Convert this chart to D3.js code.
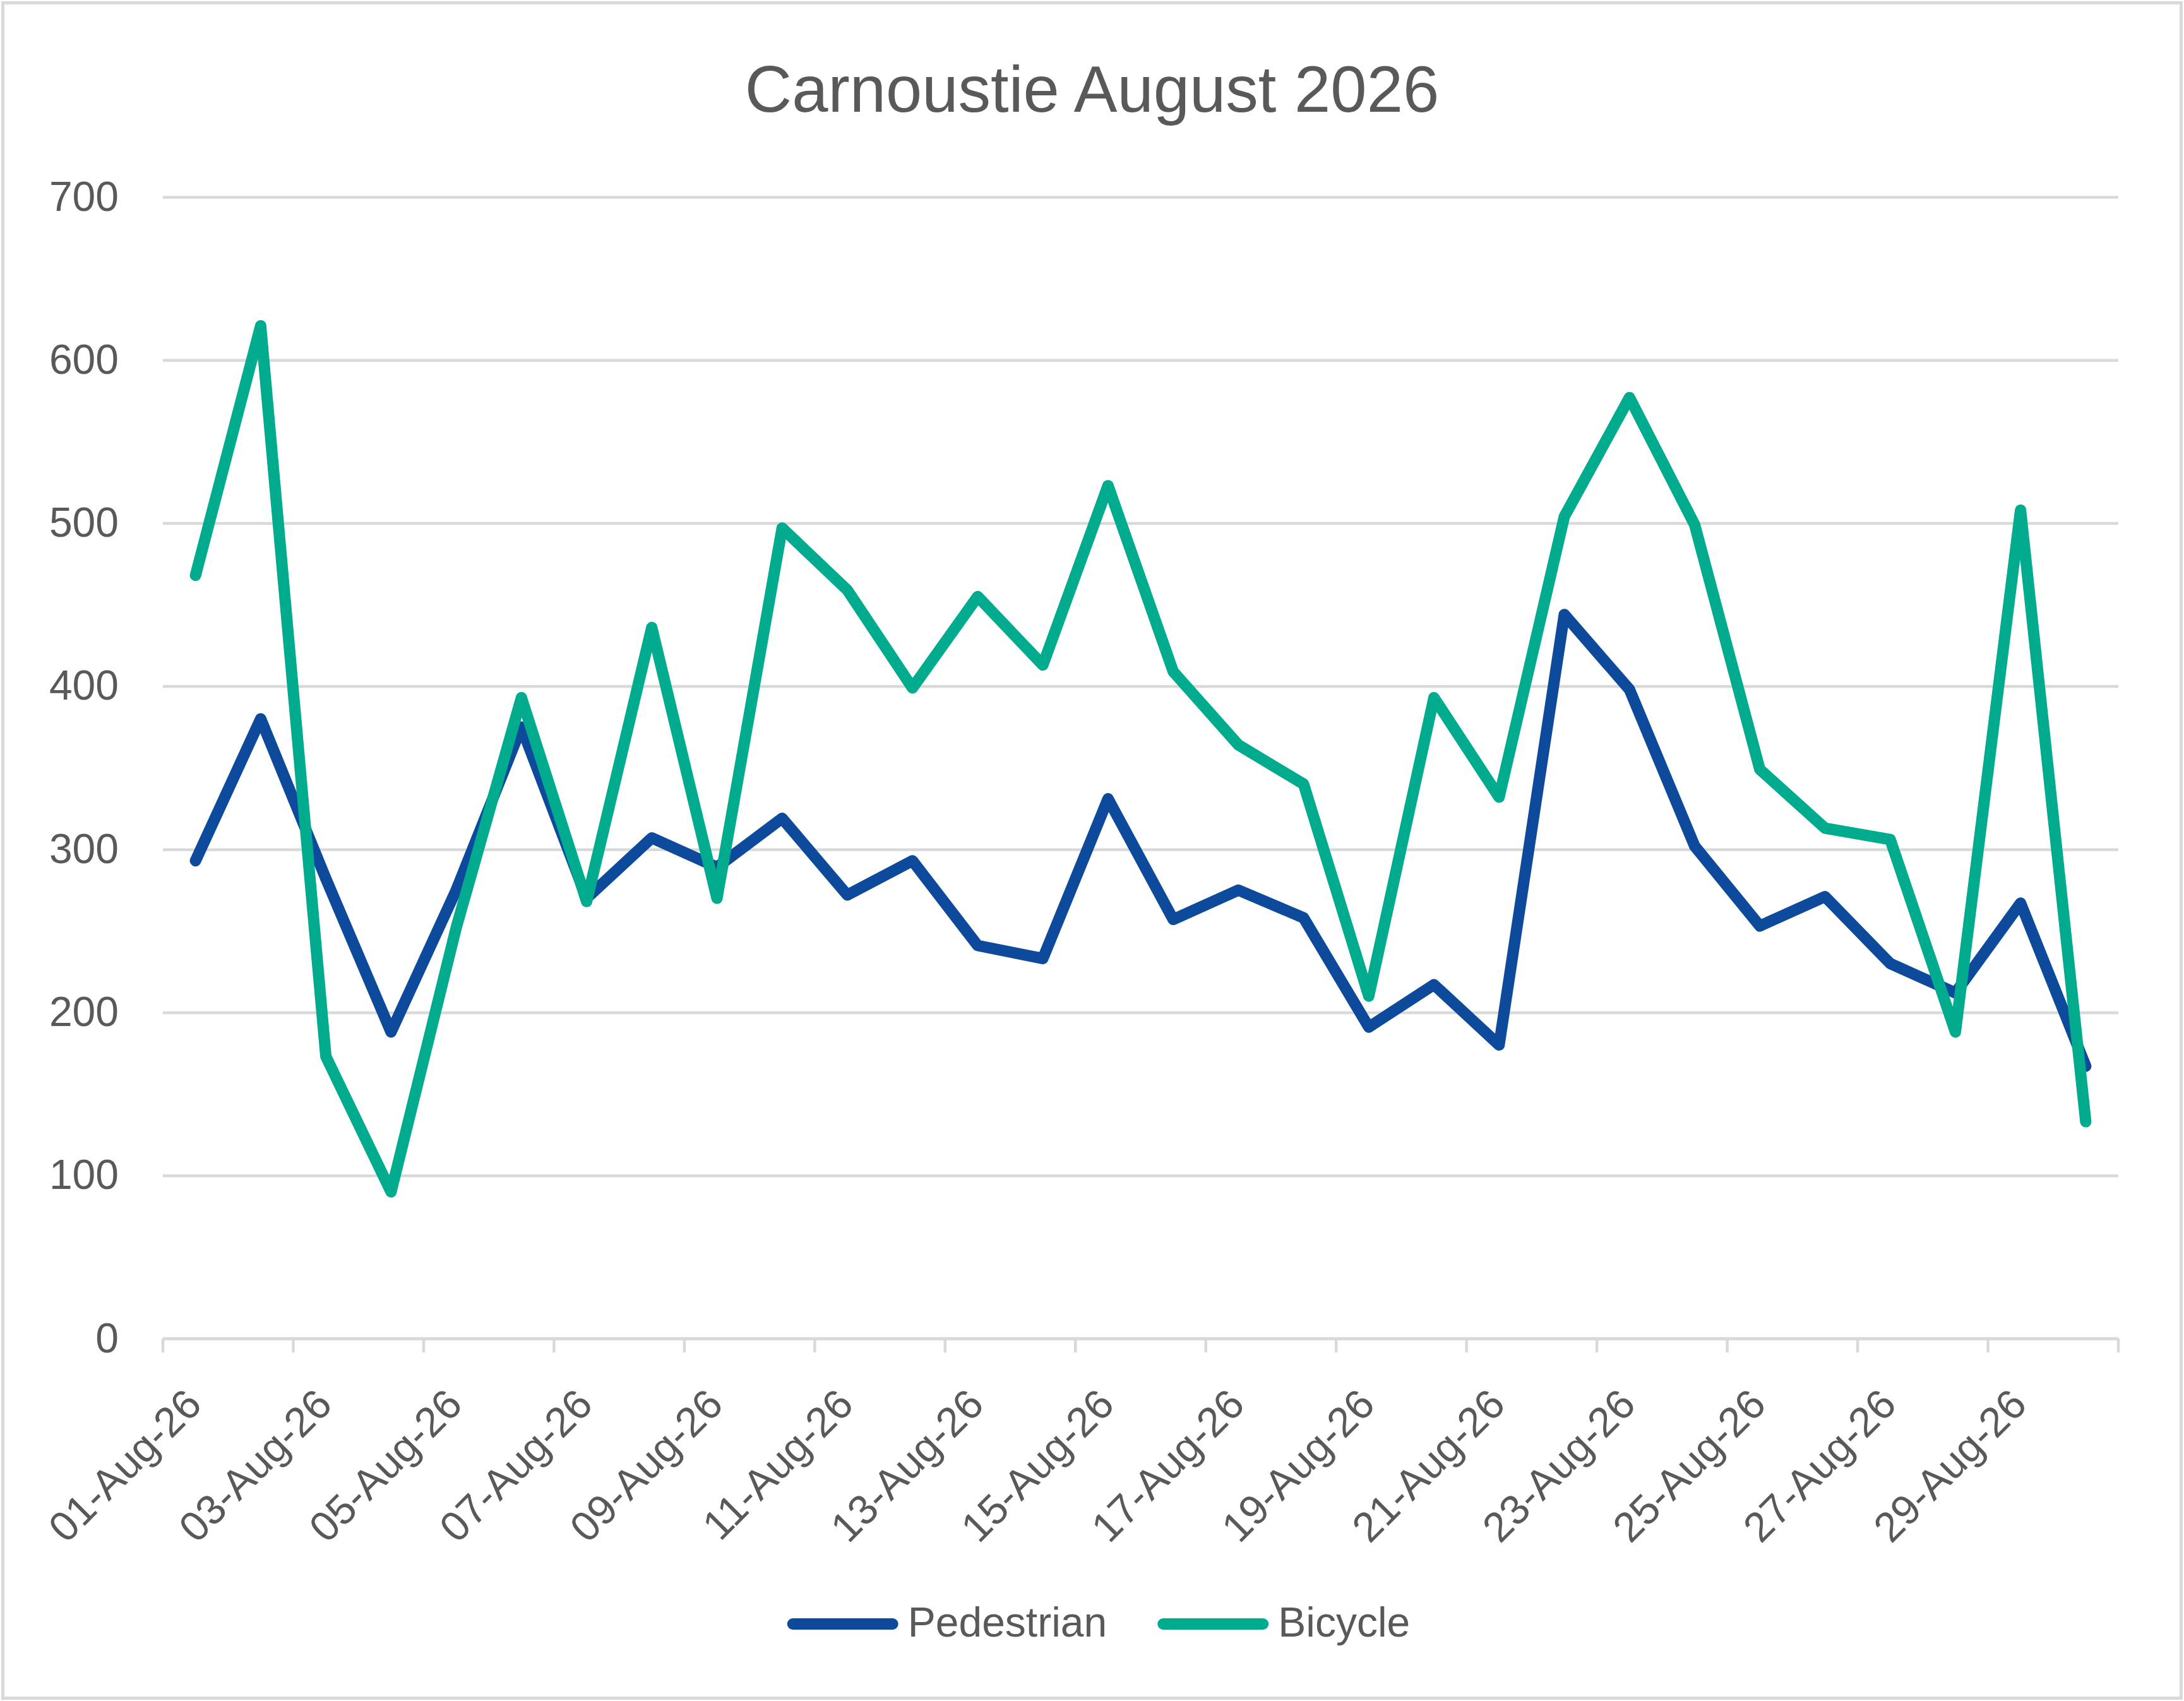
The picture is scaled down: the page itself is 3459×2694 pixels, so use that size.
<!DOCTYPE html>
<html>
<head>
<meta charset="utf-8">
<script src="https://cdn.jsdelivr.net/npm/d3@7"></script>
<style>
  body { margin: 0; background: #fff; }
  text { font-family: "Liberation Sans", Arial, sans-serif; fill: #595959; }
</style>
</head>
<body>
<div class="chart-container"></div>
<script>
"use strict";

// Data
const dates = [
    "01-Aug-26", "02-Aug-26", "03-Aug-26", "04-Aug-26", "05-Aug-26",
    "06-Aug-26", "07-Aug-26", "08-Aug-26", "09-Aug-26", "10-Aug-26",
    "11-Aug-26", "12-Aug-26", "13-Aug-26", "14-Aug-26", "15-Aug-26",
    "16-Aug-26", "17-Aug-26", "18-Aug-26", "19-Aug-26", "20-Aug-26",
    "21-Aug-26", "22-Aug-26", "23-Aug-26", "24-Aug-26", "25-Aug-26",
    "26-Aug-26", "27-Aug-26", "28-Aug-26", "29-Aug-26", "30-Aug-26"
];
const pedestrian = [293, 380, 282, 188, 275, 375, 270, 307, 289, 319,
                    272, 293, 241, 233, 331, 257, 275, 258, 191, 217,
                    180, 444, 398, 302, 253, 271, 230, 212, 267, 167];
const bicycle = [468, 621, 173, 90, 252, 393, 268, 436, 270, 497,
                 459, 399, 455, 413, 523, 409, 364, 340, 210, 393,
                 332, 504, 577, 499, 349, 313, 306, 188, 508, 133];
const yTicks = [0, 100, 200, 300, 400, 500, 600, 700];
const seriesNames = ["Pedestrian", "Bicycle"];
const title = "Carnoustie August 2026";

const colors = {Pedestrian: "#0E4A9C", Bicycle: "#00AB8E"};
const gridColor = "#D9D9D9";

// Layout
const W = 3459, H = 2694;
const plot = {left: 258, right: 3355, top: 312, bottom: 2120};

const svg = d3.select(".chart-container")
    .append("svg")
    .attr("width", W)
    .attr("height", H);

svg.append("rect")
    .attr("x", 4.5).attr("y", 4.5)
    .attr("width", W - 9).attr("height", H - 9)
    .attr("fill", "#fff")
    .attr("stroke", gridColor)
    .attr("stroke-width", 5);

const xScale = d3.scaleBand()
    .domain(dates)
    .range([plot.left, plot.right]);

const yScale = d3.scaleLinear()
    .domain([0, 700])
    .range([plot.bottom, plot.top]);

// Title
svg.append("text")
    .attr("x", W / 2)
    .attr("y", 177)
    .attr("text-anchor", "middle")
    .attr("font-size", 103)
    .text(title);

// Gridlines + y labels
const yAxis = svg.append("g")
    .attr("transform", `translate(${plot.left},0)`)
    .call(d3.axisLeft(yScale)
        .tickValues(yTicks)
        .tickSize(-(plot.right - plot.left))
        .tickPadding(70)
        .tickFormat(d3.format("d")));
yAxis.select(".domain").remove();
yAxis.selectAll(".tick line")
    .attr("stroke", gridColor)
    .attr("stroke-width", 4.5);
yAxis.selectAll(".tick text")
    .attr("font-size", 66)
    .attr("font-family", "Liberation Sans, Arial, sans-serif")
    .attr("fill", "#595959");

// X axis: tick marks on every second band boundary, labels on odd days
const xAxis = svg.append("g");
const boundaries = dates.filter((d, i) => i % 2 === 0).map(d => xScale(d));
boundaries.push(plot.right);
xAxis.append("line")
    .attr("x1", plot.left).attr("x2", plot.right)
    .attr("y1", yScale(0)).attr("y2", yScale(0))
    .attr("stroke", gridColor)
    .attr("stroke-width", 4.5);
xAxis.selectAll(".xtick")
    .data(boundaries)
    .enter()
    .append("line")
    .attr("class", "xtick")
    .attr("x1", d => d).attr("x2", d => d)
    .attr("y1", yScale(0)).attr("y2", yScale(0) + 22)
    .attr("stroke", gridColor)
    .attr("stroke-width", 4.5);
xAxis.selectAll(".xlabel")
    .data(dates.filter((d, i) => i % 2 === 0))
    .enter()
    .append("text")
    .attr("class", "xlabel")
    .attr("font-size", 66)
    .attr("text-anchor", "end")
    .attr("transform", d => {
        const cx = xScale(d) + xScale.bandwidth() / 2 + 13;
        const cy = yScale(0) + 108;
        return `translate(${cx},${cy}) rotate(-45)`;
    })
    .text(d => d);

// Lines
const line = d3.line()
    .x((d, i) => xScale(dates[i]) + xScale.bandwidth() / 2)
    .y(d => yScale(d));

const series = [
    {name: "Pedestrian", values: pedestrian},
    {name: "Bicycle", values: bicycle}
];

svg.selectAll(".series")
    .data(series)
    .enter()
    .append("path")
    .attr("class", "series")
    .attr("d", d => line(d.values))
    .attr("fill", "none")
    .attr("stroke", d => colors[d.name])
    .attr("stroke-width", 18)
    .attr("stroke-linejoin", "round")
    .attr("stroke-linecap", "round");

// Legend
const legend = svg.append("g");
const swatch = 176, swatchGap = 15, itemGap = 80, legendY = 2572;
let lx = 0;
seriesNames.forEach(name => {
    const g = legend.append("g").attr("transform", `translate(${lx},0)`);
    g.append("line")
        .attr("x1", 9).attr("x2", swatch - 9)
        .attr("y1", legendY).attr("y2", legendY)
        .attr("stroke", colors[name])
        .attr("stroke-width", 18)
        .attr("stroke-linecap", "round");
    const t = g.append("text")
        .attr("x", swatch + swatchGap)
        .attr("y", legendY + 20)
        .attr("font-size", 66)
        .text(name);
    lx += swatch + swatchGap + t.node().getComputedTextLength() + itemGap;
});
const legendWidth = lx - itemGap;
legend.attr("transform", `translate(${1740 - legendWidth / 2},0)`);
</script>
</body>
</html>
